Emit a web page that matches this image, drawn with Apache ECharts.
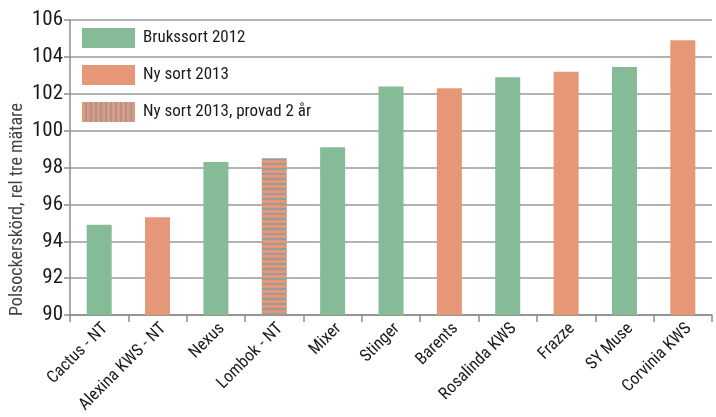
<!DOCTYPE html>
<html><head><meta charset="utf-8">
<script src="https://cdn.jsdelivr.net/npm/echarts@6/dist/echarts.min.js"></script>
<style>html,body{margin:0;padding:0;background:#fff}#c{width:716px;height:417px}</style>
</head><body><div id="c"></div>
<script>
var categories = ['Cactus - NT','Alexina KWS - NT','Nexus','Lombok - NT','Mixer','Stinger','Barents','Rosalinda KWS','Frazze','SY Muse','Corvinia KWS'];
var values = [94.9, 95.3, 98.3, 98.5, 99.1, 102.4, 102.3, 102.9, 103.2, 103.45, 104.9];
var groups = ['B','N','B','P','B','B','N','B','N','B','N'];
var seriesNames = ['Brukssort 2012','Ny sort 2013','Ny sort 2013, provad 2 år'];
var groupKeys = ['B','N','P'];
var yTicks = {min: 90, max: 106, interval: 2};
var yAxisTitle = 'Polsockerskörd, rel tre mätare';

var green = '#85BB96', orange = '#E69778', stripeGray = '#9B9B9B';
function stripes(horizontal){
  var c = document.createElement('canvas');
  c.width = horizontal ? 4 : 5; c.height = horizontal ? 5 : 4;
  var g = c.getContext('2d');
  g.fillStyle = orange; g.fillRect(0,0,c.width,c.height);
  g.fillStyle = stripeGray;
  if (horizontal) g.fillRect(0,3,4,2); else g.fillRect(3,0,2,4);
  return {image: c, repeat: 'repeat'};
}
var colors = [green, orange, stripes(true)];
var legendColors = [green, orange, stripes(false)];
var font = '"Roboto Condensed", "Liberation Sans Narrow", "Liberation Sans", sans-serif';

var series = groupKeys.map(function(k, i){
  return {
    name: seriesNames[i], type: 'bar', barWidth: 25, barGap: '-100%',
    itemStyle: {color: colors[i]},
    data: values.map(function(v, j){ return groups[j] === k ? v : '-'; })
  };
});

var chart = echarts.init(document.getElementById('c'));
chart.setOption({
  animation: false,
  grid: {left: 70, right: 4, top: 20, bottom: 102, containLabel: false, outerBoundsMode: 'none'},
  legend: {
    orient: 'vertical', left: 82, top: 28, padding: 0, itemWidth: 53, itemHeight: 20, itemGap: 17,
    icon: 'rect',
    textStyle: {fontFamily: font, fontSize: 17, color: '#1a1a1a', padding: [0,0,0,3]},
    data: seriesNames.map(function(n, i){ return {name: n, itemStyle: {color: legendColors[i]}}; })
  },
  graphic: [{
    type: 'text', x: 17, y: 316, rotation: Math.PI / 2, silent: true,
    style: {text: yAxisTitle, fontFamily: font, fontSize: 18, fill: '#444444',
            textAlign: 'left', textVerticalAlign: 'middle'}
  }],
  xAxis: {
    type: 'category', data: categories,
    axisLine: {lineStyle: {color: '#8c8c8c', width: 1.5}},
    axisTick: {show: true, length: 7, lineStyle: {color: '#8c8c8c', width: 1.5}},
    axisLabel: {rotate: 45, interval: 0, fontFamily: font, fontSize: 17, color: '#1a1a1a', margin: 5,
                align: 'right', verticalAlign: 'top'}
  },
  yAxis: {
    type: 'value', min: yTicks.min, max: yTicks.max, interval: yTicks.interval,
    axisLine: {show: true, lineStyle: {color: '#8c8c8c', width: 1.5}},
    axisTick: {show: true, length: 6, lineStyle: {color: '#8c8c8c', width: 1.5}},
    splitLine: {lineStyle: {color: '#999999', width: 1.5}},
    axisLabel: {fontFamily: font, fontSize: 21, color: '#1a1a1a', margin: 7}
  },
  series: series
});
</script></body></html>
